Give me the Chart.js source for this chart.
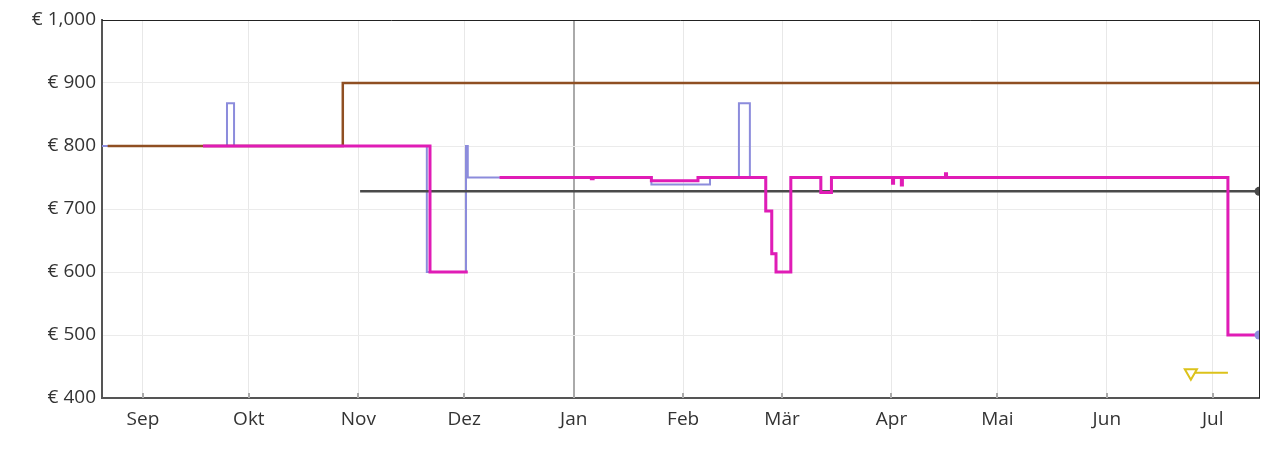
<!DOCTYPE html>
<html>
<head>
<meta charset="utf-8">
<script src="https://cdn.jsdelivr.net/npm/chart.js@4/dist/chart.umd.min.js"></script>
<style>
  html, body { margin: 0; padding: 0; background: #fff; }
  #wrap { width: 1280px; height: 456px; }
</style>
</head>
<body>
<div id="wrap"><canvas id="myChart"></canvas></div>
<script>
// x values are days counted from 1 Sep
var monthDays = [0, 30, 61, 91, 122, 153, 181, 212, 242, 273, 303]
var monthLabels = ['Sep', 'Okt', 'Nov', 'Dez', 'Jan', 'Feb', 'Mär', 'Apr', 'Mai', 'Jun', 'Jul']
var priceTicks = [400, 500, 600, 700, 800, 900, 1000]

// list price (brown)
var listDays = [-10, 56.6, 316.1]
var listPrices = [800, 900, 900]

// new (blue)
var newDays = [-11.6, 23.8, 25.8, 80.4, 91.5, 92.0, 144, 160.6, 168.8, 171.9, 176.4, 178.1, 179.3, 183.5, 192, 195, 307.3, 316.1]
var newPrices = [800, 868, 800, 600, 800, 750, 739, 750, 868, 750, 697, 629, 600, 750, 726, 750, 500, 500]

// buy box (magenta), null = gap
var boxDays = [17, 81.3, 92, 96, 101, 127, 127.5, 144, 157.2, 176.4, 178.1, 179.3, 183.5, 192, 195, 212.3, 212.6, 214.8, 215.1, 227.3, 227.6, 307.3, 316.1]
var boxPrices = [800, 600, 600, null, 750, 748, 750, 745, 750, 697, 629, 600, 750, 726, 750, 741, 750, 738, 750, 756, 750, 500, 500]

// used (dark grey)
var usedDays = [61.5, 316.1]
var usedPrices = [728, 728]

// warehouse (yellow)
var whDays = [296.8, 307.3]
var whPrices = [440, 440]

function pts(days, prices) {
    var out = []
    for (var i = 0; i < days.length; i++) out.push({x: days[i], y: prices[i]})
    return out
}

function lastDot(r) {
    return function(ctx) { return ctx.dataIndex === ctx.dataset.data.length - 1 ? r : 0 }
}

var framePlugin = {
    id: 'frame',
    afterDatasetsDraw: function(chart) {
        var a = chart.chartArea, c = chart.ctx
        var xs = chart.scales.x
        c.save()
        c.strokeStyle = '#aaa'
        c.lineWidth = 2
        monthDays.forEach(function(d) {
            var px = Math.round(xs.getPixelForValue(d))
            c.beginPath(); c.moveTo(px, a.bottom - 5); c.lineTo(px, a.bottom); c.stroke()
        })
        c.strokeStyle = '#222'
        c.lineWidth = 1
        c.beginPath()
        c.moveTo(a.left, a.top + 0.5); c.lineTo(a.right + 0.5, a.top + 0.5); c.lineTo(a.right + 0.5, a.bottom)
        c.stroke()
        c.restore()
    }
}

var txt = '#333'
var fontFam = "'Open Sans', 'Noto Sans', sans-serif"
var lastNew = newDays.length - 1

var chart = new Chart(document.getElementById('myChart').getContext('2d'), {
    type: 'line',
    data: {
        datasets: [
            {
                label: 'Neu (aktuell)',
                data: [{x: newDays[lastNew], y: newPrices[lastNew]}],
                showLine: false,
                pointRadius: 4.5,
                pointBackgroundColor: '#8c8cdc',
                pointBorderWidth: 0
            },
            {
                label: 'Warehouse',
                data: pts(whDays, whPrices),
                borderColor: '#dcc21a',
                borderWidth: 2,
                pointStyle: 'triangle',
                rotation: 180,
                pointRadius: function(ctx) { return ctx.dataIndex === 0 ? 7 : 0 },
                pointBorderColor: '#dcc21a',
                pointBackgroundColor: '#fff',
                pointBorderWidth: 2
            },
            {
                label: 'Buy Box',
                data: pts(boxDays, boxPrices),
                borderColor: '#e01cb6',
                borderWidth: 3,
                stepped: 'before',
                spanGaps: false,
                pointRadius: 0
            },
            {
                label: 'Gebraucht',
                data: pts(usedDays, usedPrices),
                borderColor: '#4a4a4a',
                borderWidth: 2.5,
                stepped: 'before',
                pointRadius: lastDot(4.5),
                pointBackgroundColor: '#4a4a4a',
                pointBorderWidth: 0
            },
            {
                label: 'Listenpreis',
                data: pts(listDays, listPrices),
                borderColor: '#8f4f22',
                borderWidth: 2.5,
                stepped: 'before',
                pointRadius: 0
            },
            {
                label: 'Neu',
                data: pts(newDays, newPrices),
                borderColor: '#8c8cdc',
                borderWidth: 2,
                stepped: 'before',
                pointRadius: 0
            }
        ]
    },
    options: {
        responsive: true,
        maintainAspectRatio: false,
        animation: false,
        layout: { padding: { left: 0, right: 21, top: 20, bottom: 0 } },
        plugins: { legend: { display: false }, tooltip: { enabled: false } },
        scales: {
            x: {
                type: 'linear',
                min: -11.6,
                max: 316.1,
                afterBuildTicks: function(scale) {
                    scale.ticks = monthDays.map(function(d) { return {value: d} })
                },
                afterFit: function(scale) { scale.height = 58 },
                ticks: {
                    autoSkip: false,
                    maxRotation: 0,
                    padding: 10,
                    color: txt,
                    font: { family: fontFam, size: 19 },
                    callback: function(v) {
                        var i = monthDays.indexOf(v)
                        return i >= 0 ? monthLabels[i] : ''
                    }
                },
                grid: {
                    drawTicks: false,
                    color: function(ctx) { return ctx.tick && ctx.tick.value === 122 ? '#aaa' : '#e8e8e8' },
                    lineWidth: function(ctx) { return ctx.tick && ctx.tick.value === 122 ? 2 : 1 }
                },
                border: { color: '#555', width: 2 }
            },
            y: {
                min: 400,
                max: 1000,
                afterBuildTicks: function(scale) {
                    scale.ticks = priceTicks.map(function(v) { return {value: v} })
                },
                afterFit: function(scale) { scale.width = 102 },
                ticks: {
                    padding: 6,
                    color: txt,
                    font: { family: fontFam, size: 19 },
                    callback: function(v) { return '€ ' + v.toLocaleString('en-US') }
                },
                grid: { drawTicks: false, color: '#ebebeb' },
                border: { color: '#555', width: 2 }
            }
        }
    },
    plugins: [framePlugin]
})
</script>
</body>
</html>
